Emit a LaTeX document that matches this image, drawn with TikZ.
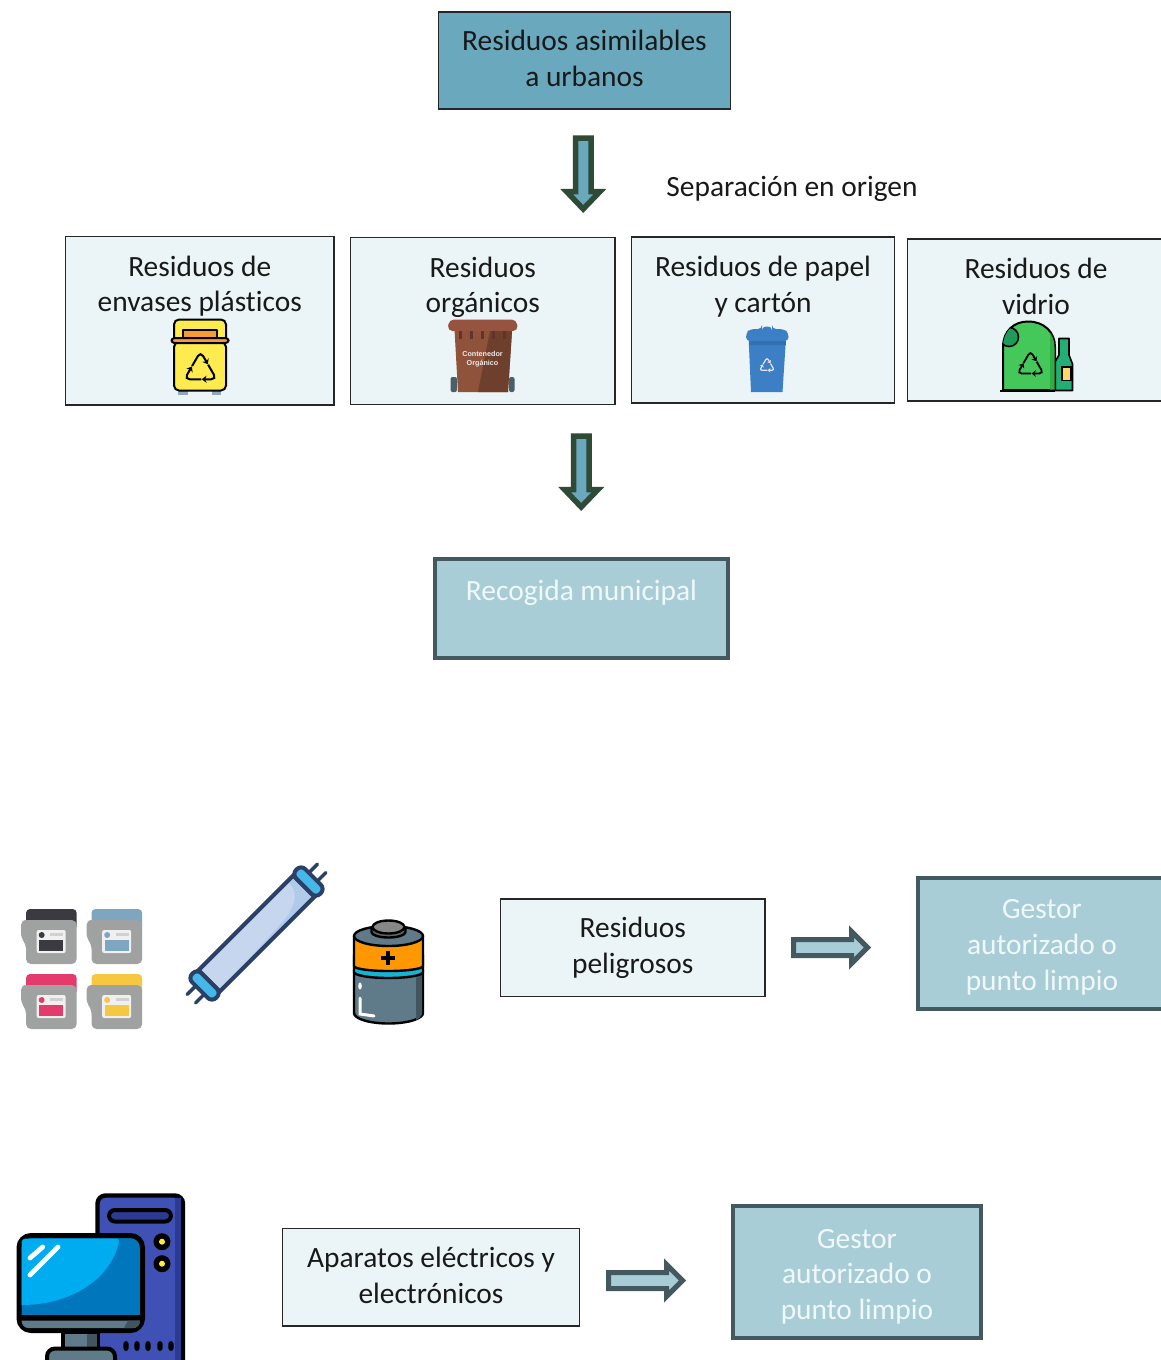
\documentclass[tikz,border=0pt]{standalone}
\usepackage{fontspec}
\setmainfont[RawFeature={-liga}]{Carlito}
\newfontfamily\tinyfont{Liberation Sans}
\usetikzlibrary{arrows.meta,calc}
\definecolor{topfill}{HTML}{6AA9BD}
\definecolor{lightbox}{HTML}{EBF4F6}
\definecolor{gestor}{HTML}{A9CDD7}
\definecolor{gestorline}{HTML}{44585F}
\definecolor{gestortext}{HTML}{F0F8FA}
\definecolor{arrowgreen}{HTML}{2F4A37}
\definecolor{tubeline}{HTML}{2A4066}
\definecolor{binyellow}{HTML}{FDEB50}
\definecolor{binorange}{HTML}{F79A34}
\definecolor{binfeet}{HTML}{8FA8BE}
\definecolor{brownlid}{HTML}{955340}
\definecolor{brownbody}{HTML}{8F523B}
\definecolor{browndark}{HTML}{6E3F2C}
\definecolor{brownstrip}{HTML}{643228}
\definecolor{wheel}{HTML}{4A5F68}
\definecolor{binblue}{HTML}{3D7FC4}
\definecolor{binbluedark}{HTML}{3270B4}
\definecolor{glassgreen}{HTML}{45C85A}
\definecolor{glassdark}{HTML}{2FAE44}
\definecolor{glasshole}{HTML}{1E9B58}
\definecolor{bottle}{HTML}{22AE74}
\definecolor{bottlelabel}{HTML}{FFD966}
\definecolor{cartgrey}{HTML}{9FA2A1}
\definecolor{cartdark}{HTML}{3B3A40}
\definecolor{cartblue}{HTML}{7FA6C1}
\definecolor{cartred}{HTML}{E33B6C}
\definecolor{cartyellow}{HTML}{F6C842}
\definecolor{glasstube}{HTML}{C5D6EE}
\definecolor{glasstubed}{HTML}{B0CBE9}
\definecolor{tubecap}{HTML}{45B8EA}
\definecolor{batgrey}{HTML}{5F7A88}
\definecolor{batdark}{HTML}{41555F}
\definecolor{batteal}{HTML}{14B4D2}
\definecolor{batorange}{HTML}{FF9800}
\definecolor{capgrey}{HTML}{646464}
\definecolor{capgreyl}{HTML}{878787}
\definecolor{towerblue}{HTML}{3F51B5}
\definecolor{towerdark}{HTML}{2C3A94}
\definecolor{screendark}{HTML}{0077BD}
\definecolor{screenlight}{HTML}{00ACF0}
\definecolor{ledyellow}{HTML}{FFEB3B}
\tikzset{
  basebox/.style={inner sep=0pt,outer sep=0pt,font=\fontsize{14.7}{18}\selectfont},
  topbox/.style={basebox,draw=black!85,line width=.6pt,fill=topfill,text=black!90},
  wastebox/.style={basebox,draw=black!85,line width=.6pt,fill=lightbox,text=black!90},
  gestorbox/.style={basebox,draw=gestorline,line width=2pt,fill=gestor,text=gestortext},
  plainlabel/.style={basebox,text=black!90},
  downarrow/.style={draw=arrowgreen,fill=topfill,line width=2.75pt,miter limit=10},
  rightarrow/.style={draw=gestorline,fill=gestor,line width=2.5pt,miter limit=10},
  ink/.style={draw=black,line width=1pt,line join=round}
}
\newcommand\bxnode[8]{\node[#1,anchor=north west,minimum width=#5pt,minimum height=#6pt] (#2) at (#3,#4) {\parbox[t][#6pt][t]{#5pt}{\centering\vspace*{#7pt}#8\par}};}
\newcommand\recy[5]{\begin{scope}[shift={(#1,#2)}]
  \foreach \a in {270,30,150}{
    \pgfmathsetmacro\vx{#3*cos(\a)}
    \pgfmathsetmacro\vy{#3*sin(\a)}
    \pgfmathsetmacro\px{\vx+1.05*(#3*.5*cos(\a-60)-\vx)}
    \pgfmathsetmacro\py{\vy+1.05*(#3*.5*sin(\a-60)-\vy)}
    \pgfmathsetmacro\qx{\vx+.92*(#3*.5*cos(\a+60)-\vx)}
    \pgfmathsetmacro\qy{\vy+.92*(#3*.5*sin(\a+60)-\vy)}
    \pgfmathsetmacro\rc{#3*.14}
    \draw[draw=#4,line width=#5pt,rounded corners=\rc pt,-{Stealth[length=#5*2.4pt,width=#5*3.6pt]}]
      (\px,\py) -- (\vx,\vy) -- (\qx,\qy);
  }\end{scope}}
\newcommand\cartridge[3]{\begin{scope}[shift={(#1,#2)}]
  \fill[#3,rounded corners=2pt] (26,909) rectangle (76.7,930);
  \fill[cartgrey,rounded corners=2.5pt] (26,920) -- (76.7,920) -- (76.7,964) -- (26,964) -- (26,944) -- (21,938) -- (21,920) -- cycle;
  \fill[white!94!black,rounded corners=1pt] (36.7,930) rectangle (65.7,953);
  \fill[#3] (39,940) rectangle (63,951);
  \fill[#3] (41.7,935) circle[radius=3];
  \fill[black!18] (50,933) rectangle (63,935.5);
\end{scope}}
\begin{document}
\begin{tikzpicture}[x=.5pt,y=-.5pt]
\useasboundingbox (0,0) rectangle (1161,1360);
\fill[white] (0,0) rectangle (1161,1360);
% boxes
\bxnode{topbox}{top}{438.5}{12}{146}{48.5}{9}{Residuos asimilables\\a urbanos}
\bxnode{wastebox}{plast}{65.5}{236.5}{134.25}{84.25}{10}{\setlength\baselineskip{17.5pt}Residuos de\\envases plásticos}
\bxnode{wastebox}{org}{350.5}{237.5}{132.25}{83.5}{9.75}{\setlength\baselineskip{17.5pt}Residuos\\orgánicos}
\bxnode{wastebox}{pap}{631.5}{237}{131.5}{83}{9.5}{Residuos de papel\\y cartón}
\bxnode{wastebox}{vid}{907.5}{239}{128.5}{81}{9.5}{Residuos de\\vidrio}
\bxnode{gestorbox}{muni}{435}{559}{146.5}{49.5}{10.5}{Recogida municipal}
\bxnode{wastebox}{pelig}{500.5}{899}{132.25}{48.75}{9}{Residuos\\peligrosos}
\bxnode{gestorbox}{gest1}{918}{878}{124}{65.5}{10.5}{Gestor\\autorizado o\\punto limpio}
\bxnode{wastebox}{apar}{282.5}{1228.5}{148.5}{48.75}{9.25}{Aparatos eléctricos y\\electrónicos}
\bxnode{gestorbox}{gest2}{733}{1206}{124}{66}{11.5}{\setlength\baselineskip{17.75pt}Gestor\\autorizado o\\punto limpio}
\node[plainlabel] (sep) at (792,188.5) {Separación en origen};
% block arrows
\draw[downarrow] (575.5,138) -- (591,138) -- (591,191.5) -- (600,191.5) -- (583.2,209) -- (566.5,191.5) -- (575.5,191.5) -- cycle;
\draw[downarrow] (573.5,436) -- (589,436) -- (589,489.5) -- (598,489.5) -- (581.2,507) -- (564.5,489.5) -- (573.5,489.5) -- cycle;
\draw[rightarrow] (793.5,939.5) -- (851.5,939.5) -- (851.5,931.5) -- (867.5,947.5) -- (851.5,963.5) -- (851.5,955.5) -- (793.5,955.5) -- cycle;
\draw[rightarrow] (608.5,1272.5) -- (666.5,1272.5) -- (666.5,1264.5) -- (682.5,1280.5) -- (666.5,1296.5) -- (666.5,1288.5) -- (608.5,1288.5) -- cycle;
% yellow bin
\fill[binfeet] (178,389) rectangle (188,395);
\fill[binfeet] (212,389) rectangle (221,395);
\draw[ink,fill=binyellow,rounded corners=2.5pt] (174,342) -- (174,319.5) -- (226,319.5) -- (226,342);
\fill[binorange] (183,330) rectangle (217,339);
\draw[ink,line width=.8pt] (183,339) -- (183,330) -- (217,330) -- (217,339);
\draw[ink,fill=binyellow,rounded corners=2.5pt] (174,342) rectangle (226,390.5);
\draw[ink,fill=binorange,rounded corners=1.5pt] (171.5,338) rectangle (228.5,343);
\recy{200.5}{370}{18.5}{black}{1}
% brown bin
\fill[wheel,rounded corners=1pt] (450.5,377) rectangle (457,392);
\fill[wheel,rounded corners=1pt] (509,377) rectangle (514.5,392);
\fill[brownbody] (454.6,331) -- (512,331) -- (508,392) -- (458,392) -- cycle;
\fill[browndark] (490,331) -- (512,331) -- (508,392) -- (478,392) -- cycle;
\fill[brownlid,rounded corners=2.5pt] (447.5,331) -- (449,319.5) -- (516.5,319.5) -- (518,331) -- cycle;
\foreach \xx in {460,471,482,493,504}{\fill[brownstrip] (\xx-1.5,331) rectangle (\xx+1.5,339);}
\node[font=\tinyfont\bfseries\fontsize{3.6}{4.5}\selectfont,text=white!92!black,align=center,inner sep=0pt] (orgtext) at (482.5,359) {Contenedor\\Orgánico};
% blue bin
\fill[binblue] (748.6,338) -- (786,338) -- (782.5,392) -- (751,392) -- cycle;
\fill[binbluedark] (748.6,341) rectangle (786,345);
\fill[binblue,rounded corners=2pt] (746,341) -- (746,333) -- (750,329) -- (762,329) -- (762,326.5) -- (772,326.5) -- (772,329) -- (784,329) -- (788.6,333) -- (788.6,341) -- cycle;
\recy{767}{366}{8.5}{white!90!blue}{.6}
% green glass container
\fill[bottle,draw=black,line width=.8pt,line join=round] (1059,338.5) -- (1069,338.5) -- (1069,355) -- (1072.5,364) -- (1072.5,390.5) -- (1053.7,390.5) -- (1053.7,364) -- (1059,355) -- cycle;
\draw[fill=bottlelabel,draw=black,line width=.8pt] (1062,367) rectangle (1071,380.5);
\draw[ink,fill=glassgreen] (1003,390) -- (1003,347) .. controls (1003,331) and (1014,321.5) .. (1028,321.5) .. controls (1044,321.5) and (1055,332) .. (1055,347) -- (1055,390) -- cycle;
\fill[glassdark] (1050,333) .. controls (1053,337) and (1054.5,342) .. (1054.5,347) -- (1054.5,389.5) -- (1050,389.5) -- cycle;
\begin{scope}
\clip (1003,390) -- (1003,347) .. controls (1003,331) and (1014,321.5) .. (1028,321.5) -- (1028,390) -- cycle;
\draw[fill=glasshole,draw=black,line width=.8pt] (1009,337) circle[radius=9.5];
\end{scope}
\draw[draw=black,line width=1pt] (1000,390.5) -- (1055,390.5);
\recy{1030.5}{366}{15}{black}{.9}
% ink cartridges
\cartridge{0}{0}{cartdark}
\cartridge{65.5}{0}{cartblue}
\cartridge{0}{65}{cartred}
\cartridge{65.5}{65}{cartyellow}
% fluorescent tube
\begin{scope}[shift={(256.5,933.5)},rotate=45]
\draw[tubeline,line width=1.75pt,line cap=round] (80,-6) -- (92,-6) (80,6) -- (92,6) (-80,-6) -- (-92,-6) (-80,6) -- (-92,6);
\fill[glasstube] (-67,-15) rectangle (67,15);
\fill[glasstubed] (-60,15) -- (67,15) -- (67,-15) -- (58,-15) .. controls (62,-3) and (50,8) .. (30,10) -- cycle;
\draw[tubeline,line width=2pt] (-67,-15) rectangle (67,15);
\draw[tubeline,line width=2pt,fill=tubecap,rounded corners=3pt] (67,-17) -- (80,-17) -- (80,17) -- (67,17) -- cycle;
\draw[tubeline,line width=2pt,fill=tubecap,rounded corners=3pt] (-67,-17) -- (-80,-17) -- (-80,17) -- (-67,17) -- cycle;
\end{scope}
% battery
\draw[ink,line width=1.2pt,fill=batgrey] (354,970) -- (354,1013) arc[start angle=180,end angle=0,x radius=34.5,y radius=10.5] -- (423,970) -- cycle;
\fill[batdark] (416,978) -- (422,974) -- (422,1013) .. controls (422,1016) and (419,1019) .. (416,1020) -- cycle;
\draw[ink,line width=1.2pt,fill=batteal] (354,955) -- (354,972) arc[start angle=180,end angle=0,x radius=34.5,y radius=6] -- (423,955) -- cycle;
\draw[ink,line width=1.2pt,fill=batorange] (354,936) -- (354,966) arc[start angle=180,end angle=0,x radius=34.5,y radius=5] -- (423,936) -- cycle;
\draw[ink,line width=1.2pt,fill=batgrey] (388.5,936) ellipse[x radius=34.5,y radius=10];
\draw[ink,line width=1.2pt,fill=capgrey] (371.5,927) -- (371.5,932) arc[start angle=180,end angle=0,x radius=17,y radius=5.5] -- (405.5,927) -- cycle;
\draw[ink,line width=1.2pt,fill=capgreyl] (388.5,927) ellipse[x radius=16,y radius=6.5];
\draw[line width=1.9pt,black] (388,951) -- (388,965) (381,958) -- (395,958);
\draw[white,line width=1.5pt,line cap=round] (360,998) -- (360,1014) -- (374,1016);
\fill[white] (360,986) ellipse[x radius=1.8,y radius=3.5];
% computer
\draw[line width=2.2pt,draw=black,fill=towerblue,rounded corners=4pt] (97.5,1195.5) rectangle (183,1370);
\fill[towerdark] (175,1198) rectangle (181,1360);
\draw[line width=2pt,draw=black,fill=towerdark,rounded corners=3pt] (109,1210) rectangle (171,1221.5);
\foreach \yy in {1241.7,1263.7}{\fill[black] (162,\yy) circle[radius=8.5];\fill[ledyellow] (162,\yy) circle[radius=3];}
\foreach \xx in {126,137,148,160,171}{\fill[black,rounded corners=1.5pt] (\xx-2.7,1341) rectangle (\xx+2.7,1351);}
\fill[batgrey,draw=black,line width=1.6pt] (63,1332) rectangle (98,1350);
\fill[batdark] (87,1334) rectangle (97,1349);
\draw[line width=2.5pt,draw=black,fill=screendark,rounded corners=6pt] (19,1235.5) rectangle (142.5,1330.5);
\fill[screenlight,rounded corners=2pt] (21.5,1305) -- (21.5,1238.5) -- (120,1238.5) .. controls (110,1280) and (70,1305) .. (21.5,1305);
\fill[black] (20,1315) rectangle (142,1320.5);
\fill[batgrey] (21.5,1320.5) -- (140,1320.5) .. controls (140,1325) and (137,1328) .. (133,1328) -- (28,1328) .. controls (25,1328) and (21.5,1325) .. (21.5,1320.5);
\fill[batdark] (128,1320.5) -- (140,1320.5) .. controls (140,1325) and (137,1328) .. (133,1328) -- (124,1328) -- cycle;
\draw[line width=2pt,draw=black,fill=batgrey,rounded corners=4pt] (47,1348.5) rectangle (115,1372);
\draw[white,line width=2.4pt,line cap=round] (30,1258) -- (42.7,1247) (30,1275) -- (58,1247);
\end{tikzpicture}
\end{document}
